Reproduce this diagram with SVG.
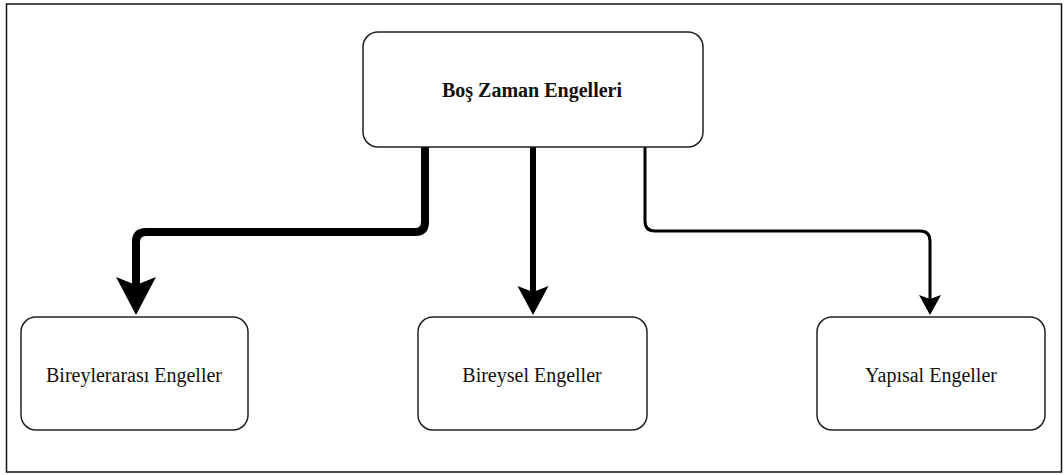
<svg xmlns="http://www.w3.org/2000/svg" width="1064" height="475" viewBox="0 0 1064 475">
<style>
.node rect{fill:#fff;stroke:#222;stroke-width:1.5}
.lbl{font-family:"Liberation Serif","Times New Roman",serif;font-size:20px;fill:#111;text-anchor:middle;dominant-baseline:central}
.conn path{fill:none;stroke:#000;stroke-linejoin:round}
</style>
<defs>
<marker id="aL" markerUnits="userSpaceOnUse" markerWidth="40" markerHeight="40" refX="8" refY="0" orient="auto" overflow="visible"><path d="M0,-20 L38,0 L0,20 L8,0 Z" fill="#000"/></marker>
<marker id="aM" markerUnits="userSpaceOnUse" markerWidth="32" markerHeight="32" refX="6" refY="0" orient="auto" overflow="visible"><path d="M0,-15.5 L29,0 L0,15.5 L6,0 Z" fill="#000"/></marker>
<marker id="aR" markerUnits="userSpaceOnUse" markerWidth="22" markerHeight="22" refX="4" refY="0" orient="auto" overflow="visible"><path d="M0,-11 L20,0 L0,11 L4,0 Z" fill="#000"/></marker>
</defs>
<rect x="6.5" y="4" width="1055" height="468" fill="#fff" stroke="#111" stroke-width="1.5"/>
<g class="conn" id="connectors">
<path d="M425 147 V222 Q425 232 415 232 H146 Q136 232 136 242 V285" stroke-width="8" marker-end="url(#aL)"/>
<path d="M533 147 V292" stroke-width="6" marker-end="url(#aM)"/>
<path d="M645 147 V221 Q645 231 655 231 H920 Q930 231 930 241 V299" stroke-width="3" marker-end="url(#aR)"/>
</g>
<g class="node" id="node-root"><rect x="363" y="32" width="340" height="115" rx="15"/><text class="lbl" x="532" y="90" font-weight="bold">Boş Zaman Engelleri</text></g>
<g class="node" id="node-interpersonal"><rect x="21" y="317" width="227" height="113" rx="15"/><text class="lbl" x="134" y="375">Bireylerarası Engeller</text></g>
<g class="node" id="node-individual"><rect x="418" y="317" width="229" height="113" rx="15"/><text class="lbl" x="532" y="375">Bireysel Engeller</text></g>
<g class="node" id="node-structural"><rect x="817" y="317" width="228" height="113" rx="15"/><text class="lbl" x="931" y="375">Yapısal Engeller</text></g>
</svg>
